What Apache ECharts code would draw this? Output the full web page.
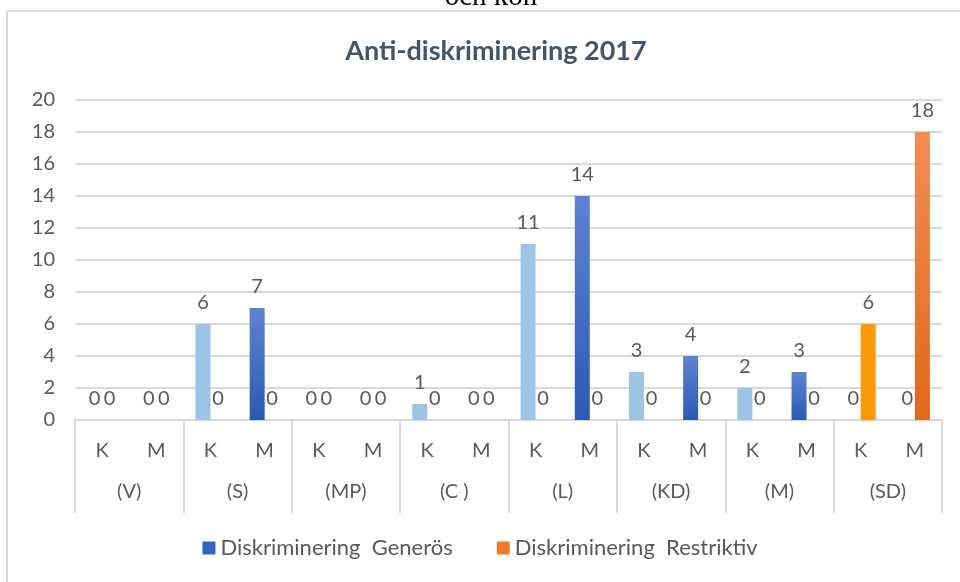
<!DOCTYPE html>
<html>
<head>
    <meta charset="UTF-8">
    <title>Anti-diskriminering 2017</title>
    <script type="text/javascript" src="https://cdn.jsdelivr.net/npm/echarts@6/dist/echarts.min.js"></script>
    <style>
        *{margin:0;padding:0}
        html,body{width:100%;height:100%;background:#fff}
        #main{width:960px;height:582px}
    </style>
</head>
<body>
<div id="main"></div>
<script type="text/javascript">
    // kategorier
    var parties = ['(V)', '(S)', '(MP)', '(C )', '(L)', '(KD)', '(M)', '(SD)'];
    var genders = ['K', 'M'];
    var seriesNames = ['Diskriminering  Generös', 'Diskriminering  Restriktiv'];
    // värden, två per parti (K, M)
    var generos = [0, 0, 6, 7, 0, 0, 1, 0, 11, 14, 3, 4, 2, 3, 0, 0];
    var restriktiv = [0, 0, 0, 0, 0, 0, 0, 0, 0, 0, 0, 0, 0, 0, 6, 18];
    var yTicks = [0, 2, 4, 6, 8, 10, 12, 14, 16, 18, 20];

    var subLabels = [];
    parties.forEach(function () { subLabels = subLabels.concat(genders); });

    function grad(top, bottom) {
        return new echarts.graphic.LinearGradient(0, 0, 0, 1, [
            {offset: 0, color: top}, {offset: 1, color: bottom}
        ]);
    }
    var blueK = '#9DC3E6', blueM = grad('#5E83D0', '#2A5AB5');
    var orangeK = '#F99A06', orangeM = grad('#F08D55', '#E2691A');

    function items(values, kColor, mColor) {
        return values.map(function (v, i) {
            return {value: v, itemStyle: {color: i % 2 === 0 ? kColor : mColor}};
        });
    }

    var font = 'Lato, "Open Sans", sans-serif';
    var fs = 20;
    var labelStyle = {show: true, position: 'top', distance: 11, color: '#595959', fontSize: fs, fontFamily: font};

    var option = {
        backgroundColor: '#fff',
        animation: false,
        title: {
            text: 'Anti-diskriminering 2017',
            left: 491, textAlign: 'center', top: 33,
            textStyle: {color: '#44546A', fontSize: 27, fontWeight: 'bold', fontFamily: font}
        },
        graphic: [
            {type: 'text', x: 491, y: 12,
             style: {text: 'och kön', font: '29px "Liberation Serif", serif', fill: '#000',
                     align: 'center', verticalAlign: 'bottom'}},
            {type: 'rect', shape: {x: 7, y: 11, width: 960, height: 580},
             style: {fill: 'none', stroke: '#D9D9D9', lineWidth: 2}}
        ],
        legend: {
            bottom: 18, left: 'center', itemGap: 44,
            itemWidth: 13, itemHeight: 13, icon: 'rect',
            textStyle: {color: '#595959', fontSize: 22, fontFamily: font}
        },
        grid: {left: 75, right: 18, top: 100, bottom: 162},
        xAxis: [{
            type: 'category', data: subLabels,
            axisLine: {show: true, lineStyle: {color: '#D9D9D9', width: 2}},
            axisTick: {show: false},
            axisLabel: {interval: 0, margin: 21, color: '#595959', fontSize: fs, fontFamily: font}
        }, {
            type: 'category', data: parties, position: 'bottom',
            axisLine: {show: false},
            axisTick: {show: true, length: 93, interval: 0, lineStyle: {color: '#D9D9D9', width: 2}},
            axisLabel: {interval: 0, margin: 62, color: '#595959', fontSize: fs, fontFamily: font}
        }],
        yAxis: {
            type: 'value', min: yTicks[0], max: yTicks[yTicks.length - 1], interval: 2,
            axisLine: {show: false}, axisTick: {show: false},
            axisLabel: {margin: 20, color: '#595959', fontSize: fs, fontFamily: font},
            splitLine: {lineStyle: {color: '#D9D9D9', width: 2}}
        },
        series: [{
            name: seriesNames[0], type: 'bar', xAxisIndex: 0,
            barWidth: 15, barGap: '0%',
            itemStyle: {color: '#3565C0'},
            label: labelStyle,
            data: items(generos, blueK, blueM)
        }, {
            name: seriesNames[1], type: 'bar', xAxisIndex: 0,
            barWidth: 15, barGap: '0%',
            itemStyle: {color: '#EE7B2C'},
            label: labelStyle,
            data: items(restriktiv, orangeK, orangeM)
        }]
    };

    var myChart = echarts.init(document.getElementById('main'));
    myChart.setOption(option);
</script>
</body>
</html>
